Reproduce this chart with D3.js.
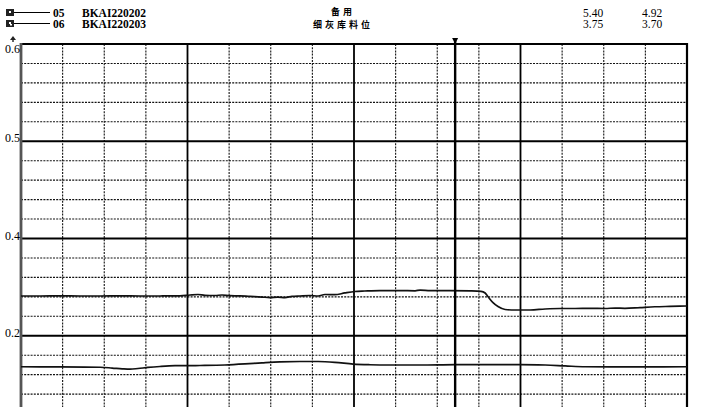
<!DOCTYPE html>
<html lang="zh">
<head>
    <meta charset="UTF-8">
    <title>细灰库料位</title>
    <script src="https://d3js.org/d3.v7.min.js"></script>
    <style>
        body { margin: 0; background: #fff; }
        svg { display: block; }
        text { font-family: "Liberation Serif", "DejaVu Serif", serif; font-size: 11.5px; font-weight: bold; fill: #000; }
        .cjk { font-family: "Noto Sans CJK SC", sans-serif; font-weight: bold; font-size: 9px; letter-spacing: 3px; }
        .major { stroke: #000; stroke-width: 1.8; }
        .minor { stroke: #111; stroke-width: 1.1; stroke-dasharray: 2,1.2; }
        .trend { fill: none; stroke: #111; stroke-width: 1.7; stroke-linejoin: round; }
    </style>
</head>
<body>
<script>
    const width = 705;
    const height = 407;

    // y ticks as printed on the chart (the last major line is labelled 0.2)
    const yMajorTicks = [0.6, 0.5, 0.4, 0.3];
    const yTickLabels = ["0.6", "0.5", "0.4", "0.2"];

    // legend rows
    const tagNo   = ["05", "06"];
    const tagName = ["BKAI220202", "BKAI220203"];
    const tagDesc = ["备用", "细灰库料位"];
    const valueA  = ["5.40", "3.75"];
    const valueB  = ["4.92", "3.70"];

    // cursor position (x units: 10 per minor division)
    const cursorT = 104.3;

    // series 1 (upper trace)
    const upperT = [0, 4.6, 9.4, 14.2, 19, 23.8, 28.6, 33.4, 38.2, 40.6, 42.5, 44.2, 46.6, 48.3,
        50.2, 52.6, 55, 57.9, 59.8, 61.7, 63.4, 65.1, 67, 69.4, 71.4, 73, 75.4, 77.8, 80.2, 82.6,
        86.2, 91, 94.7, 95.9, 98.3, 103, 107.9, 110.5, 111.5, 112.4, 113.4, 114.6, 116.3, 118.7,
        122.3, 125.9, 129.5, 133.1, 136.7, 140.3, 142.7, 145.1, 148.7, 152.3, 155.9, 160];
    const upperV = [0.3409, 0.3409, 0.3411, 0.3409, 0.3409, 0.3410, 0.3409, 0.3409, 0.3410, 0.3419,
        0.3424, 0.3416, 0.3414, 0.3419, 0.3412, 0.3410, 0.3404, 0.3398, 0.3393, 0.3398, 0.3393,
        0.3404, 0.3409, 0.3414, 0.3409, 0.3424, 0.3422, 0.3440, 0.3455, 0.3460, 0.3465, 0.3465,
        0.3462, 0.3470, 0.3465, 0.3465, 0.3462, 0.3457, 0.3440, 0.3390, 0.3340, 0.3300, 0.3270,
        0.3265, 0.3265, 0.3275, 0.3280, 0.3280, 0.3282, 0.3280, 0.3285, 0.3282, 0.3290, 0.3298,
        0.3302, 0.3306];

    // series 2 (lower trace)
    const lowerT = [0, 9.4, 19, 21.9, 24.3, 26.2, 28.1, 30.5, 33.4, 37, 43, 49, 53.8, 57.9, 62.2,
        67, 71.4, 75.4, 79.8, 83.8, 88.6, 95.9, 104.3, 112.7, 119.9, 125.9, 130.7, 135.5, 141.5,
        151.1, 160];
    const lowerV = [0.2681, 0.2679, 0.2676, 0.2668, 0.2660, 0.2656, 0.2663, 0.2674, 0.2684, 0.2692,
        0.2694, 0.2699, 0.2710, 0.2722, 0.2732, 0.2735, 0.2735, 0.2727, 0.2709, 0.2702, 0.2699,
        0.2699, 0.2704, 0.2704, 0.2704, 0.2699, 0.2690, 0.2681, 0.2679, 0.2679, 0.2681];

    const plot = {left: 21, right: 687, top: 44, bottom: 410};

    const x = d3.scaleLinear().domain([0, 160]).range([plot.left, plot.right]);
    const y = d3.scaleLinear().domain([0.6, 0.2]).range([plot.top, 433]);

    const svg = d3.select("body").append("svg")
        .attr("width", width).attr("height", height);

    // minor grid
    const xMinor = d3.range(10, 160, 10).filter(d => d % 40 !== 0);
    const yMinor = d3.range(0.58, 0.2, -0.02).filter(d => Math.abs(d * 10 - Math.round(d * 10)) > 1e-6);

    svg.selectAll("line.vminor").data(xMinor).enter().append("line")
        .attr("class", "minor")
        .attr("x1", d => x(d)).attr("x2", d => x(d))
        .attr("y1", plot.top).attr("y2", plot.bottom);

    svg.selectAll("line.hminor").data(yMinor).enter().append("line")
        .attr("class", "minor")
        .attr("x1", plot.left).attr("x2", plot.right)
        .attr("y1", d => y(d)).attr("y2", d => y(d));

    // major grid
    svg.selectAll("line.vmajor").data([40, 80, 120]).enter().append("line")
        .attr("class", "major")
        .attr("x1", d => x(d)).attr("x2", d => x(d))
        .attr("y1", plot.top).attr("y2", plot.bottom);

    svg.selectAll("line.hmajor").data(yMajorTicks).enter().append("line")
        .attr("class", "major")
        .attr("x1", plot.left).attr("x2", plot.right)
        .attr("y1", d => y(d)).attr("y2", d => y(d));

    // right border
    svg.append("line").attr("class", "major")
        .attr("x1", plot.right).attr("x2", plot.right)
        .attr("y1", plot.top - 1).attr("y2", plot.bottom)
        .style("stroke-width", 2.2);

    // left axis
    svg.append("line")
        .attr("x1", plot.left).attr("x2", plot.left)
        .attr("y1", plot.top - 1).attr("y2", plot.bottom)
        .style("stroke", "#555").style("stroke-width", 2.8);

    // axis marker above 0.6
    svg.append("path")
        .attr("d", "M13,36 L10,40 L16,40 Z M12.3,40 L13.7,40 L13.7,42 L12.3,42 Z")
        .style("fill", "#222");

    // y labels
    svg.selectAll("text.ylab").data(yMajorTicks).enter().append("text")
        .attr("x", plot.left - 1)
        .attr("y", d => Math.max(y(d) + 1, plot.top + 9))
        .attr("text-anchor", "end")
        .style("font-weight", "normal")
        .style("font-size", "12px")
        .text((d, i) => yTickLabels[i]);

    // traces
    const line = d3.line().x(d => x(d[0])).y(d => y(d[1])).curve(d3.curveMonotoneX);
    svg.append("path").attr("class", "trend")
        .attr("d", line(upperT.map((t, i) => [t, upperV[i]])));
    svg.append("path").attr("class", "trend")
        .attr("d", line(lowerT.map((t, i) => [t, lowerV[i]])));

    // cursor
    svg.append("line")
        .attr("x1", x(cursorT)).attr("x2", x(cursorT))
        .attr("y1", plot.top - 3).attr("y2", plot.bottom)
        .style("stroke", "#000").style("stroke-width", 2.4);
    svg.append("path")
        .attr("d", `M${x(cursorT) - 3},38 L${x(cursorT) + 3},38 L${x(cursorT)},44 Z`)
        .style("fill", "#000");

    // legend
    const rowY = [17, 28];
    const cjkY = [14.5, 27.5];
    tagNo.forEach(function(no, i) {
        const ry = rowY[i];
        svg.append("rect").attr("x", 6).attr("y", ry - 8).attr("width", 8).attr("height", 7)
            .style("fill", "#222");
        svg.append("rect").attr("x", 9).attr("y", ry - 6).attr("width", 2).attr("height", 2)
            .style("fill", "#fff");
        if (i === 1) {
            svg.append("rect").attr("x", 10).attr("y", ry - 4).attr("width", 2).attr("height", 1.5)
                .style("fill", "#fff");
        }
        svg.append("line").attr("x1", 14).attr("x2", 50)
            .attr("y1", ry - 4.5).attr("y2", ry - 4.5)
            .style("stroke", "#000").style("stroke-width", 1);
        svg.append("text").attr("x", 53).attr("y", ry).text(no);
        svg.append("text").attr("x", 82).attr("y", ry).text(tagName[i]);
        svg.append("text").attr("class", "cjk").attr("x", 343).attr("y", cjkY[i])
            .attr("text-anchor", "middle").text(tagDesc[i]);
        svg.append("text").attr("x", 583).attr("y", ry).style("font-weight", "normal").text(valueA[i]);
        svg.append("text").attr("x", 642).attr("y", ry).style("font-weight", "normal").text(valueB[i]);
    });
</script>
</body>
</html>
